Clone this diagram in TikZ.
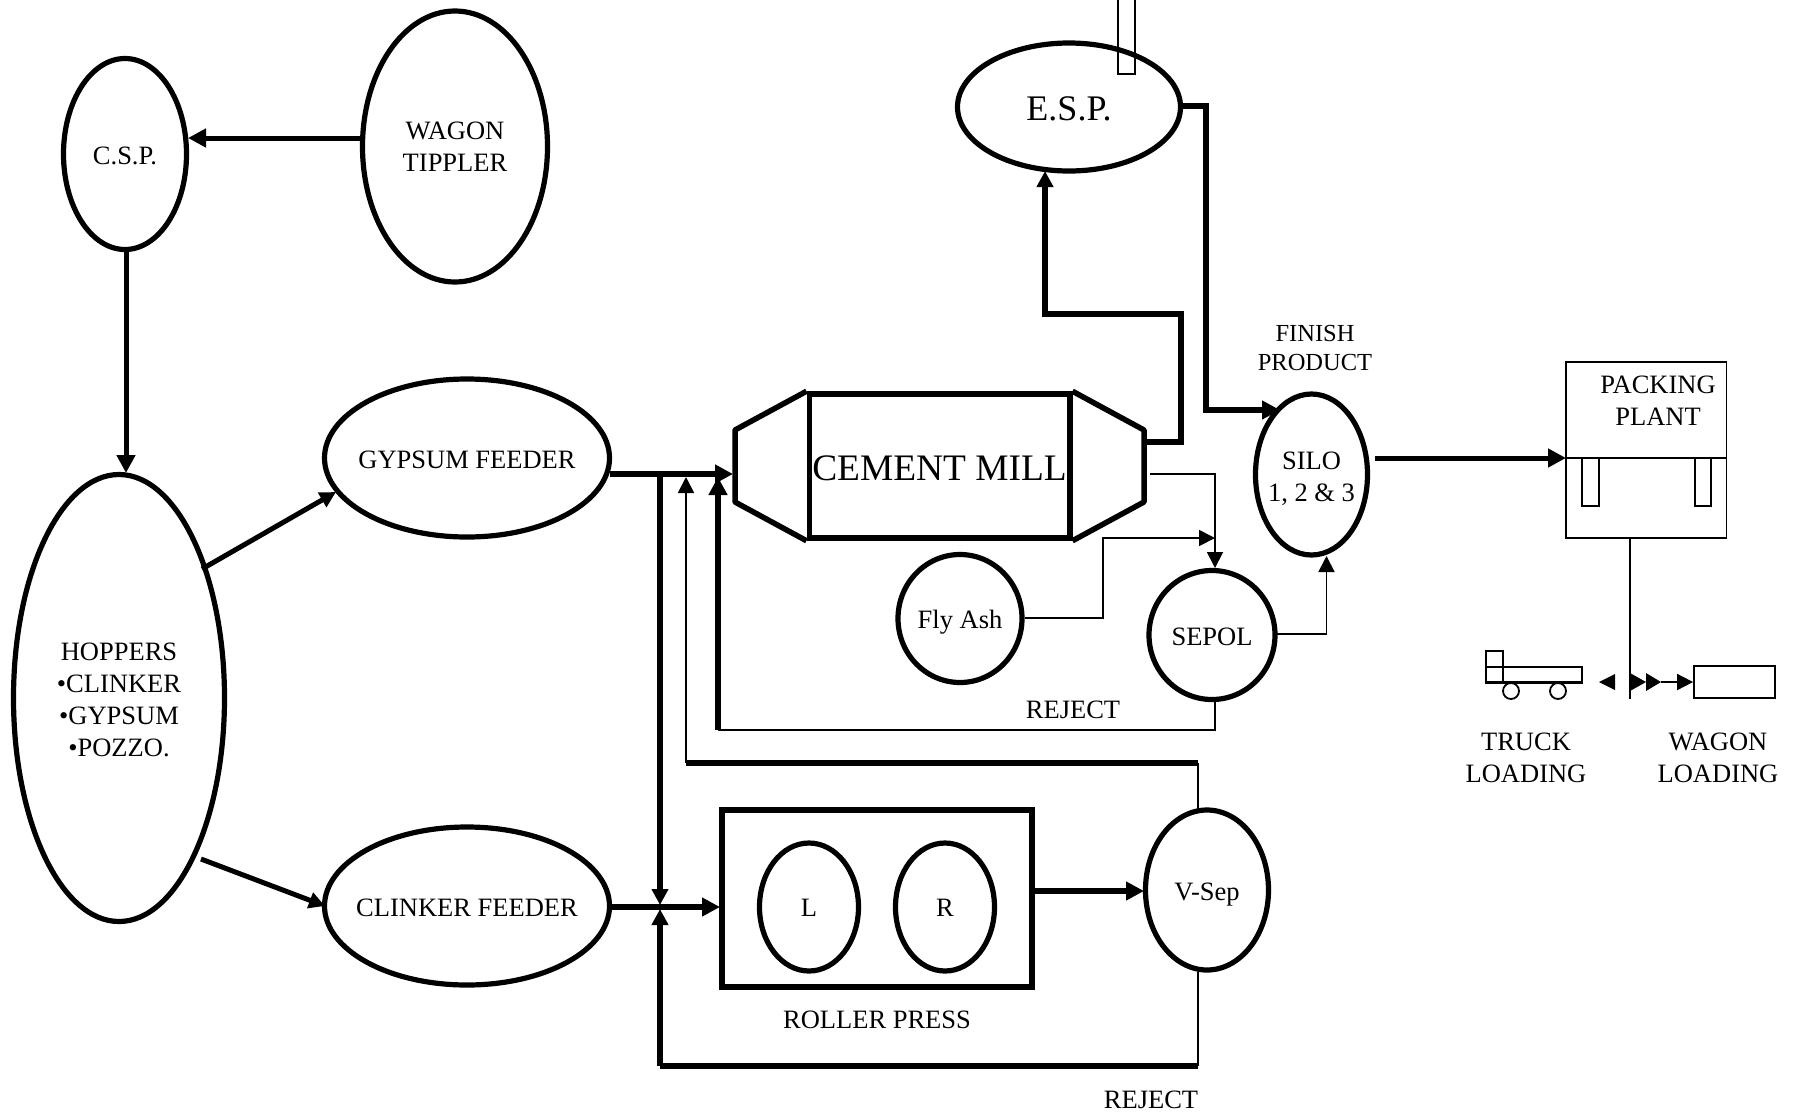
\documentclass[tikz,border=0pt]{standalone}
\usepackage{fontspec}
\setmainfont{Liberation Serif}
\usetikzlibrary{arrows.meta,shapes.geometric,calc}
\tikzset{
  blob/.style={draw=black,shape=ellipse,inner sep=0pt,line width=5.2pt},
  lbl/.style={inner sep=0pt,align=center,font=\fontsize{26.5}{32}\selectfont},
  intext/.style={lbl,yshift=-2.3pt},
  heavy/.style={draw=black,line width=6pt,line cap=butt,miter limit=10},
  medium/.style={draw=black,line width=5pt},
  fine/.style={draw=black,line width=1.8pt},
  headL/.style={-{Triangle[length=18pt,width=18pt]}},
  headS/.style={-{Triangle[length=16pt,width=16pt]}},
  tip/.style={fill=black,draw=none}
}
\begin{document}
\begin{tikzpicture}[x=1pt,y=-1pt]
\useasboundingbox (0,0) rectangle (1794,1112);
\fill[white] (0,0) rectangle (1794,1112);

% stack behind the E.S.P.
\draw[fine] (1118,-3) -- (1118,74) -- (1135,74) -- (1135,-3);

% ellipses
\node[blob,minimum width=185pt,minimum height=271pt,label={[intext,yshift=1.8pt]center:WAGON\\TIPPLER}] (wagon) at (455,146.5) {};
\node[blob,minimum width=123pt,minimum height=191pt,label={[intext]center:C.S.P.}] (csp) at (125,154) {};
\node[blob,minimum width=211pt,minimum height=447pt,label={[intext]center:HOPPERS\\•CLINKER\\•GYPSUM\\•POZZO.}] (hoppers) at (119,698) {};
\node[blob,minimum width=285pt,minimum height=158pt,label={[intext]center:GYPSUM FEEDER}] (gypsum) at (467,458) {};
\node[blob,minimum width=285pt,minimum height=158pt,label={[intext]center:CLINKER FEEDER}] (clinker) at (467,906) {};
\node[blob,minimum width=223pt,minimum height=128pt,label={[intext,font=\fontsize{36}{40}\selectfont]center:E.S.P.}] (esp) at (1069,107) {};
\node[blob,minimum width=112pt,minimum height=161pt,label={[intext,yshift=-1.5pt]center:SILO\\1, 2 \& 3}] (silo) at (1311.5,474.5) {};
\node[blob,minimum width=124pt,minimum height=128pt,label={[intext,yshift=-1pt]center:Fly Ash}] (flyash) at (960,618.5) {};
\node[blob,minimum width=126pt,minimum height=129pt,label={[intext]center:SEPOL}] (sepol) at (1212,635) {};
\node[blob,minimum width=123pt,minimum height=160pt,label={[intext,yshift=-2.2pt]center:V-Sep}] (vsep) at (1207,890) {};

% cement mill
\node[draw=black,line width=5.5pt,inner sep=0pt,minimum width=260.5pt,minimum height=144pt,label={[intext,font=\fontsize{37.4}{40}\selectfont]center:CEMENT MILL}] (mill) at (939.5,466) {};
\coordinate (millLT) at (735,430);
\coordinate (millLB) at (735,502);
\coordinate (millRT) at (1144,430);
\coordinate (millRB) at (1144,502);
\draw[line width=5.5pt,line join=bevel] (mill.north west) -- (millLT) -- (millLB) -- (mill.south west);
\draw[line width=5.5pt,line join=bevel] (mill.north east) -- (millRT) -- (millRB) -- (mill.south east);

% roller press
\node[draw=black,line width=5.5pt,inner sep=0pt,minimum width=310pt,minimum height=177pt] (press) at (877,898.5) {};
\node[blob,minimum width=99pt,minimum height=128pt,label={[intext,yshift=1.8pt]center:L}] (rollL) at (809,907) {};
\node[blob,minimum width=99pt,minimum height=128pt,label={[intext,yshift=1.8pt]center:R}] (rollR) at (945,907) {};

% packing plant
\node[draw=black,line width=1.8pt,inner sep=0pt,minimum width=160.5pt,minimum height=176pt] (packing) at (1646.25,450) {};
\coordinate (packL) at (1566,458);
\coordinate (packR) at (1726.5,458);
\draw[fine] (packL) -- (packR);
\draw[fine] (1582,458) -- (1582,506) -- (1599,506) -- (1599,458);
\draw[fine] (1695,458) -- (1695,506) -- (1711,506) -- (1711,458);

% wagon and truck
\node[draw=black,line width=1.8pt,inner sep=0pt,minimum width=81pt,minimum height=32pt] (wagonbox) at (1734.5,682) {};
\node[draw=black,line width=1.8pt,inner sep=0pt,minimum width=96pt,minimum height=15pt] (truckbed) at (1534,674.5) {};
\node[draw=black,line width=1.8pt,inner sep=0pt,minimum width=17pt,minimum height=31pt] (truckcab) at (1494.5,666.5) {};
\draw[line width=3pt] (truckbed.south west) -- (truckbed.south east);
\node[draw=black,fill=white,line width=1.8pt,shape=circle,inner sep=0pt,minimum width=16pt] (wheelA) at (1511,691) {};
\node[draw=black,fill=white,line width=1.8pt,shape=circle,inner sep=0pt,minimum width=16pt] (wheelB) at (1558,691) {};

% connector ports on the outlines
\coordinate (wagonOut) at (361,138);
\coordinate (cspIn) at (188,138);
\coordinate (cspOut) at (126,252);
\coordinate (hopIn) at (126,473);
\coordinate (hopToGyp) at (202,569);
\coordinate (gypIn) at (336,492);
\coordinate (hopToCli) at (201,859);
\coordinate (cliIn) at (325,906);
\coordinate (gypOut) at (610,474);
\coordinate (millIn) at (733,474);
\coordinate (cliOut) at (610,907);
\coordinate (pressIn) at (720,907);
\coordinate (j1) at (660,474);
\coordinate (j1b) at (660,905);
\coordinate (j2) at (660,909);
\coordinate (j2c) at (660,1066);
\coordinate (vsepBot) at (1198,972);
\coordinate (vsepBotC) at (1198,1066);
\coordinate (vsepTop) at (1198,809);
\coordinate (vsepTopC) at (1198,763);
\coordinate (r2c) at (686,763);
\coordinate (r2t) at (686,477);
\coordinate (sepBot) at (1215,700);
\coordinate (sepBotC) at (1215,730);
\coordinate (r1c) at (718,730);
\coordinate (r1t) at (718,477);
\coordinate (pressOut) at (1032,891);
\coordinate (vsepIn) at (1144,891);
\coordinate (millOutT) at (1144,442);
\coordinate (m1) at (1181,442);
\coordinate (m2) at (1181,314);
\coordinate (m3) at (1045,314);
\coordinate (espIn) at (1045,171);
\coordinate (espOut) at (1181,106);
\coordinate (e1) at (1206,106);
\coordinate (e2) at (1206,410);
\coordinate (siloIn) at (1280,410);
\coordinate (millOutB) at (1150,474);
\coordinate (s1) at (1215,474);
\coordinate (sepolIn) at (1215,568);
\coordinate (flyOut) at (1025,618);
\coordinate (f1) at (1103,618);
\coordinate (f2) at (1103,538);
\coordinate (f3) at (1215,538);
\coordinate (sepOut) at (1277,634);
\coordinate (s2) at (1326.5,634);
\coordinate (siloBot) at (1326.5,556);
\coordinate (siloOut) at (1375,458);
\coordinate (p1) at (1630,699);
\coordinate (a1t) at (1599,682);
\coordinate (a2) at (1630,682);
\coordinate (a3) at (1646,682);
\coordinate (a4) at (1661,682);

% heavy flow
\draw[medium,headL] (wagonOut) -- (cspIn);
\draw[medium,headL] (cspOut) -- (hopIn);
\draw[medium,headS] (hopToGyp) -- (gypIn);
\draw[medium,headS] (hopToCli) -- (cliIn);
\draw[heavy,headL] (gypOut) -- (millIn);
\draw[heavy,headS] (j1) -- (j1b);
\draw[heavy,headL] (cliOut) -- (pressIn);
\draw[heavy,headS] (j2c) -- (j2);
\draw[heavy] (vsepBotC) -- (j2c);
\draw[fine] (vsepBot) -- (vsepBotC);
\draw[fine] (vsepTop) -- (vsepTopC);
\draw[heavy] (vsepTopC) -- (r2c);
\draw[fine,headS] (r2c) -- (r2t);
\draw[fine] (sepBot) -- (sepBotC) -- (r1c);
\draw[heavy,headL] (r1c) -- (r1t);
\draw[heavy,headL] (pressOut) -- (vsepIn);
\draw[heavy,headS] (millOutT) -- (m1) -- (m2) -- (m3) -- (espIn);
\draw[heavy,headL] (espOut) -- (e1) -- (e2) -- (siloIn);
\draw[fine,headS] (millOutB) -- (s1) -- (sepolIn);
\draw[fine,headS] (flyOut) -- (f1) -- (f2) -- (f3);
\draw[fine,headS] (sepOut) -- (s2) -- (siloBot);
\draw[medium,headL] (siloOut) -- (packL);

% packing plant discharge
\draw[line width=2pt] (packing.south -| p1) -- (p1);
\draw[tip] (a1t) -- ++(16,-8) -- ++(0,16) -- cycle;
\draw[tip] (a2) ++(0,-9) -- ++(16,9) -- ++(-16,9) -- cycle;
\draw[tip] (a3) ++(0,-9) -- ++(15,9) -- ++(-15,9) -- cycle;
\draw[fine,headS] (a4) -- (wagonbox.west);

% labels
\node[lbl,font=\fontsize{24.5}{29}\selectfont] (finish) at (1315,348) {FINISH\\PRODUCT};
\node[lbl] (packtext) at (1658,401) {PACKING\\PLANT};
\node[lbl] (trucktext) at (1526,758) {TRUCK\\LOADING};
\node[lbl] (wagontext) at (1718,758) {WAGON\\LOADING};
\node[lbl] (reject1) at (1073,710) {REJECT};
\node[lbl] (reject2) at (1151,1100) {REJECT};
\node[lbl] (rollertext) at (877,1020) {ROLLER PRESS};
\end{tikzpicture}
\end{document}
